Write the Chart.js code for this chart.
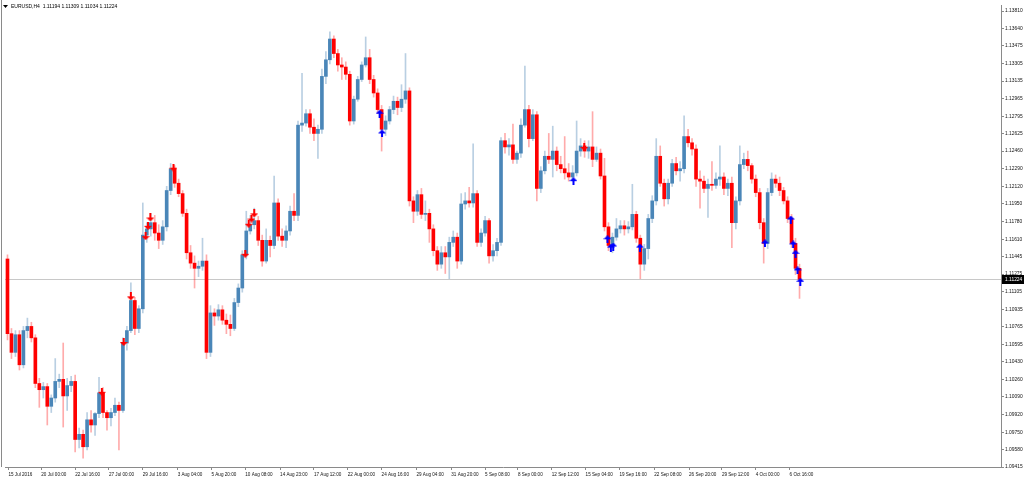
<!DOCTYPE html>
<html>
<head>
<meta charset="utf-8">
<script src="https://cdn.jsdelivr.net/npm/chart.js@4.4.1/dist/chart.umd.min.js"></script>
<style>
  html, body { margin: 0; padding: 0; background: #fff; }
  #wrap { width: 1024px; height: 480px; position: relative; }
</style>
</head>
<body>
<div id="wrap"><canvas id="priceChart" width="1024" height="480"></canvas></div>
<script>
// EURUSD H4 candles (two H4 bars per candle)
const opens = [
  1.1142,1.1070,1.1052,1.1069,1.1040,1.1073,1.1077,1.1066,1.1022,1.1016,
  1.1019,1.1000,1.1008,1.1024,1.1026,1.1010,1.1020,1.1024,1.0968,1.0973,
  1.0961,1.0987,1.0982,1.0993,1.1013,1.0994,1.0989,1.0994,1.1001,1.0996,
  1.1061,1.1073,1.1102,1.1075,1.1094,1.1165,1.1171,1.1177,1.1167,1.1160,
  1.1173,1.1208,1.1229,1.1215,1.1205,1.1186,1.1148,1.1138,1.1133,1.1135,
  1.1140,1.1052,1.1090,1.1087,1.1093,1.1083,1.1079,1.1075,1.1100,1.1114,
  1.1146,1.1169,1.1175,1.1179,1.1160,1.1140,1.1160,1.1155,1.1196,1.1164,
  1.1160,1.1169,1.1188,1.1184,1.1271,1.1273,1.1282,1.1269,1.1263,1.1267,
  1.1318,1.1334,1.1354,1.1340,1.1329,1.1327,1.1320,1.1275,1.1296,1.1315,
  1.1329,1.1336,1.1315,1.1302,1.1286,1.1267,1.1275,1.1286,1.1294,1.1288,
  1.1296,1.1304,1.1198,1.1188,1.1204,1.1185,1.1186,1.1171,1.1150,1.1137,
  1.1148,1.1144,1.1158,1.1163,1.1140,1.1195,1.1198,1.1196,1.1205,1.1158,
  1.1167,1.1179,1.1145,1.1150,1.1158,1.1256,1.1250,1.1252,1.1238,1.1244,
  1.1271,1.1286,1.1258,1.1281,1.1210,1.1227,1.1241,1.1238,1.1246,1.1233,
  1.1229,1.1225,1.1221,1.1225,1.1246,1.1251,1.1246,1.1250,1.1238,1.1244,
  1.1222,1.1173,1.1155,1.1163,1.1171,1.1174,1.1171,1.1173,1.1185,1.1162,
  1.1137,1.1152,1.1181,1.1198,1.1241,1.1215,1.1200,1.1215,1.1234,1.1227,
  1.1229,1.1260,1.1254,1.1248,1.1219,1.1217,1.1210,1.1214,1.1213,1.1219,
  1.1221,1.1210,1.1215,1.1177,1.1198,1.1233,1.1238,1.1232,1.1219,1.1206,
  1.1177,1.1157,1.1206,1.1219,1.1215,1.1208,1.1198,1.1181,1.1157,1.1133
];
const highs = [
  1.1146,1.1075,1.1073,1.1073,1.1077,1.1085,1.1081,1.1069,1.1027,1.1023,
  1.1022,1.1011,1.1046,1.1031,1.1061,1.1027,1.1029,1.1030,1.0979,1.0977,
  1.0994,1.0996,1.0994,1.1028,1.1018,1.0996,1.0998,1.1008,1.1004,1.1066,
  1.1077,1.1119,1.1105,1.1097,1.1196,1.1177,1.1186,1.1184,1.1175,1.1179,
  1.1212,1.1234,1.1232,1.1219,1.1208,1.1190,1.1155,1.1145,1.1140,1.1162,
  1.1146,1.1097,1.1094,1.1098,1.1097,1.1089,1.1088,1.1104,1.1118,1.1150,
  1.1188,1.1184,1.1191,1.1183,1.1165,1.1171,1.1164,1.1222,1.1200,1.1171,
  1.1174,1.1193,1.1205,1.1275,1.1321,1.1286,1.1286,1.1277,1.1271,1.1325,
  1.1342,1.1361,1.1357,1.1344,1.1336,1.1332,1.1323,1.1299,1.1318,1.1332,
  1.1356,1.1344,1.1319,1.1306,1.1290,1.1280,1.1289,1.1299,1.1298,1.1310,
  1.1340,1.1307,1.1202,1.1208,1.1210,1.1198,1.1190,1.1175,1.1154,1.1154,
  1.1154,1.1163,1.1169,1.1167,1.1205,1.1206,1.1211,1.1253,1.1208,1.1171,
  1.1183,1.1181,1.1156,1.1162,1.1259,1.1263,1.1258,1.1272,1.1246,1.1277,
  1.1328,1.1290,1.1286,1.1284,1.1231,1.1246,1.1263,1.1270,1.1250,1.1241,
  1.1260,1.1234,1.1232,1.1275,1.1258,1.1256,1.1256,1.1284,1.1250,1.1248,
  1.1239,1.1177,1.1167,1.1181,1.1179,1.1179,1.1178,1.1214,1.1188,1.1165,
  1.1156,1.1185,1.1203,1.1258,1.1251,1.1219,1.1219,1.1238,1.1240,1.1236,
  1.1280,1.1267,1.1258,1.1252,1.1227,1.1222,1.1219,1.1236,1.1225,1.1251,
  1.1225,1.1219,1.1221,1.1202,1.1251,1.1244,1.1246,1.1234,1.1223,1.1210,
  1.1181,1.1210,1.1225,1.1223,1.1221,1.1211,1.1202,1.1185,1.1162,1.1137
];
const lows = [
  1.1064,1.1046,1.1048,1.1035,1.1037,1.1066,1.1062,1.1018,1.0999,1.1008,
  1.0982,1.0994,1.1004,1.1018,1.0980,1.0996,1.1014,1.0956,1.0960,1.0950,
  1.0958,1.0975,1.0972,1.0989,1.0989,1.0977,1.0981,1.0991,1.0958,1.0994,
  1.1054,1.1071,1.1069,1.1071,1.1090,1.1158,1.1164,1.1160,1.1152,1.1156,
  1.1169,1.1204,1.1211,1.1202,1.1183,1.1142,1.1133,1.1114,1.1125,1.1131,
  1.1046,1.1048,1.1078,1.1083,1.1079,1.1070,1.1068,1.1073,1.1096,1.1110,
  1.1142,1.1166,1.1171,1.1155,1.1135,1.1138,1.1144,1.1152,1.1160,1.1154,
  1.1153,1.1165,1.1179,1.1179,1.1265,1.1270,1.1263,1.1256,1.1239,1.1263,
  1.1311,1.1330,1.1336,1.1323,1.1315,1.1315,1.1271,1.1272,1.1294,1.1313,
  1.1327,1.1311,1.1298,1.1282,1.1246,1.1261,1.1272,1.1282,1.1281,1.1284,
  1.1292,1.1193,1.1177,1.1184,1.1181,1.1179,1.1158,1.1145,1.1131,1.1133,
  1.1128,1.1123,1.1154,1.1133,1.1137,1.1190,1.1192,1.1192,1.1154,1.1154,
  1.1164,1.1138,1.1140,1.1145,1.1155,1.1244,1.1242,1.1234,1.1234,1.1240,
  1.1269,1.1250,1.1256,1.1198,1.1206,1.1224,1.1234,1.1221,1.1227,1.1225,
  1.1219,1.1217,1.1217,1.1222,1.1241,1.1240,1.1239,1.1231,1.1236,1.1219,
  1.1169,1.1150,1.1148,1.1160,1.1167,1.1165,1.1167,1.1170,1.1158,1.1123,
  1.1131,1.1142,1.1177,1.1194,1.1212,1.1193,1.1195,1.1212,1.1223,1.1217,
  1.1225,1.1250,1.1242,1.1212,1.1191,1.1206,1.1182,1.1208,1.1210,1.1213,
  1.1204,1.1203,1.1153,1.1171,1.1194,1.1229,1.1227,1.1215,1.1202,1.1171,
  1.1138,1.1152,1.1203,1.1211,1.1203,1.1195,1.1177,1.1153,1.1127,1.1104
];
const closes = [
  1.1070,1.1052,1.1069,1.1040,1.1073,1.1077,1.1066,1.1022,1.1016,1.1019,
  1.1000,1.1008,1.1024,1.1026,1.1010,1.1020,1.1024,1.0968,1.0973,1.0961,
  1.0987,1.0982,1.0993,1.1013,1.0994,1.0989,1.0994,1.1001,1.0996,1.1061,
  1.1073,1.1102,1.1075,1.1094,1.1165,1.1171,1.1177,1.1167,1.1160,1.1173,
  1.1208,1.1229,1.1215,1.1205,1.1186,1.1148,1.1138,1.1133,1.1135,1.1140,
  1.1052,1.1090,1.1087,1.1093,1.1083,1.1079,1.1075,1.1100,1.1114,1.1146,
  1.1169,1.1175,1.1179,1.1160,1.1140,1.1160,1.1155,1.1196,1.1164,1.1160,
  1.1169,1.1188,1.1184,1.1271,1.1273,1.1282,1.1269,1.1263,1.1267,1.1318,
  1.1334,1.1354,1.1340,1.1329,1.1327,1.1320,1.1275,1.1296,1.1315,1.1329,
  1.1336,1.1315,1.1302,1.1286,1.1267,1.1275,1.1286,1.1294,1.1288,1.1296,
  1.1304,1.1198,1.1188,1.1204,1.1185,1.1186,1.1171,1.1150,1.1137,1.1148,
  1.1144,1.1158,1.1163,1.1140,1.1195,1.1198,1.1196,1.1205,1.1158,1.1167,
  1.1179,1.1145,1.1150,1.1158,1.1256,1.1250,1.1252,1.1238,1.1244,1.1271,
  1.1286,1.1258,1.1281,1.1210,1.1227,1.1241,1.1238,1.1246,1.1233,1.1229,
  1.1225,1.1221,1.1225,1.1246,1.1251,1.1246,1.1250,1.1238,1.1244,1.1222,
  1.1173,1.1155,1.1163,1.1171,1.1174,1.1171,1.1173,1.1185,1.1162,1.1137,
  1.1152,1.1181,1.1198,1.1241,1.1215,1.1200,1.1215,1.1234,1.1227,1.1229,
  1.1260,1.1254,1.1248,1.1219,1.1217,1.1210,1.1214,1.1213,1.1219,1.1221,
  1.1210,1.1215,1.1177,1.1198,1.1233,1.1238,1.1232,1.1219,1.1206,1.1177,
  1.1157,1.1206,1.1219,1.1215,1.1208,1.1198,1.1181,1.1157,1.1133,1.11224
];

// signal arrows: bar position + price
const upArrowBar   = [93.5, 94.1, 142.2, 150.75, 151.6, 152.2, 158.9, 190.3, 196.8, 197.4, 198, 198.5, 199.2];
const upArrowPrice = [1.1282, 1.1263, 1.1217, 1.1161, 1.1153, 1.1154, 1.1153, 1.1157, 1.1180, 1.1156, 1.1147, 1.1131, 1.1120];
const downArrowBar   = [23.7, 29.2, 31, 34.7, 35.3, 35.9, 41.7, 59.75, 60.6, 61.3, 62, 144.9];
const downArrowPrice = [1.1014, 1.1062, 1.1106, 1.1164, 1.1174, 1.1182, 1.1230, 1.1147, 1.1176, 1.1181, 1.1186, 1.1250];

// axis labels
const timeTickBar = [0.25, 8.5, 17, 25.5, 34, 42.75, 51.25, 59.75, 68.5, 77, 85.5, 94, 102.75, 111.5,
  120, 128.25, 136.75, 145.25, 153.75, 162.5, 171.25, 179.5, 188, 196.5];
const timeTickLabels = ['15 Jul 2016', '20 Jul 00:00', '22 Jul 16:00', '27 Jul 00:00', '29 Jul 16:00',
  '3 Aug 04:00', '5 Aug 20:00', '10 Aug 08:00', '14 Aug 23:00', '17 Aug 12:00', '22 Aug 00:00',
  '24 Aug 16:00', '29 Aug 04:00', '31 Aug 20:00', '5 Sep 08:00', '8 Sep 00:00', '12 Sep 12:00',
  '15 Sep 04:00', '19 Sep 16:00', '22 Sep 08:00', '26 Sep 20:00', '29 Sep 12:00', '4 Oct 00:00', '6 Oct 16:00'];
const priceTicks = [1.13810, 1.13640, 1.13475, 1.13305, 1.13135, 1.12965, 1.12795, 1.12625, 1.12460,
  1.12290, 1.12120, 1.11950, 1.11780, 1.11610, 1.11445, 1.11275, 1.11105, 1.10935, 1.10765, 1.10595,
  1.10430, 1.10260, 1.10090, 1.09920, 1.09750, 1.09580, 1.09415];

const symbolName = 'EURUSD,H4';
const lastBarOHLC = [1.11194, 1.11309, 1.11034, 1.11224];
const currentPrice = 1.11224;

const UP = 'rgb(74,134,184)';
const UP_WICK = 'rgba(70,130,180,0.38)';
const DOWN = 'rgb(255,0,0)';
const DOWN_WICK = 'rgba(255,0,0,0.33)';
const FONT_FAMILY = 'Liberation Sans, Arial, sans-serif';

// arrow glyphs for the signal points
function makeArrow(color, pointUp) {
    const c = document.createElement('canvas');
    c.width = 8; c.height = 8;
    const g = c.getContext('2d');
    g.fillStyle = color;
    if (!pointUp) { g.translate(0, 8); g.scale(1, -1); }
    g.beginPath();
    g.moveTo(4, 0); g.lineTo(8, 4); g.lineTo(0, 4); g.closePath();
    g.fill();
    g.fillRect(3, 4, 2, 4);
    return c;
}

const isUp = closes.map((c, i) => c >= opens[i]);

// current price line, frame, price box and header text
const overlay = {
    id: 'overlay',
    beforeDatasetsDraw(chart) {
        const ctx = chart.ctx, a = chart.chartArea;
        const y = Math.round(chart.scales.y.getPixelForValue(currentPrice)) + 0.5;
        ctx.save();
        ctx.strokeStyle = '#c8c8c8';
        ctx.lineWidth = 1;
        ctx.beginPath(); ctx.moveTo(a.left, y); ctx.lineTo(a.right, y); ctx.stroke();
        ctx.strokeStyle = '#8a8a8a';
        ctx.beginPath(); ctx.moveTo(1.5, 0); ctx.lineTo(1.5, a.bottom); ctx.stroke();
        ctx.restore();
    },
    afterDraw(chart) {
        const ctx = chart.ctx, a = chart.chartArea;
        const y = Math.round(chart.scales.y.getPixelForValue(currentPrice));
        ctx.save();
        ctx.fillStyle = '#000';
        ctx.fillRect(a.right + 1, y - 4, 1024 - a.right - 1, 9);
        ctx.fillStyle = '#fff';
        ctx.font = '4.9px ' + FONT_FAMILY;
        ctx.textBaseline = 'middle';
        ctx.fillText(currentPrice.toFixed(5), a.right + 4, y + 0.5);
        // header
        ctx.fillStyle = '#000';
        ctx.beginPath(); ctx.moveTo(3, 5); ctx.lineTo(8, 5); ctx.lineTo(5.5, 8); ctx.closePath(); ctx.fill();
        ctx.font = '5px ' + FONT_FAMILY;
        ctx.fillText(symbolName + '  ' + lastBarOHLC.map(v => v.toFixed(5)).join(' '), 11, 6.5);
        ctx.restore();
    }
};

const ctx = document.getElementById('priceChart').getContext('2d');
const chart = new Chart(ctx, {
    type: 'bar',
    data: {
        datasets: [{
            label: 'wick',
            data: lows.map((l, i) => ({ x: i, y: [l, highs[i]] })),
            backgroundColor: isUp.map(u => u ? UP_WICK : DOWN_WICK),
            barThickness: 1,
            grouped: false,
            borderWidth: 0,
            order: 2
        }, {
            label: 'body',
            data: opens.map((o, i) => ({ x: i, y: [o, closes[i]] })),
            backgroundColor: isUp.map(u => u ? UP : DOWN),
            barThickness: 3,
            minBarLength: 1,
            grouped: false,
            borderWidth: 0,
            order: 1
        }, {
            type: 'line',
            label: 'buy',
            data: upArrowBar.map((b, i) => ({ x: b, y: upArrowPrice[i] })),
            showLine: false,
            pointStyle: makeArrow('#0000ff', true),
            pointRadius: 4,
            order: 0
        }, {
            type: 'line',
            label: 'sell',
            data: downArrowBar.map((b, i) => ({ x: b, y: downArrowPrice[i] })),
            showLine: false,
            pointStyle: makeArrow('#ff0000', false),
            pointRadius: 4,
            order: 0
        }]
    },
    options: {
        responsive: false,
        animation: false,
        layout: { padding: { top: 3, left: 0, right: 0, bottom: 0 } },
        plugins: { legend: { display: false }, tooltip: { enabled: false } },
        scales: {
            x: {
                type: 'linear',
                offset: false,
                min: -0.625,
                max: 249.625,
                afterBuildTicks: s => { s.ticks = timeTickBar.map(v => ({ value: v })); },
                afterFit: s => { s.height = 13; },
                grid: { drawOnChartArea: false, drawTicks: true, tickLength: 3, color: '#8a8a8a', offset: false },
                border: { display: true, color: '#8a8a8a' },
                ticks: {
                    autoSkip: false, maxRotation: 0, align: 'start', padding: 1.5,
                    color: '#111', font: { family: FONT_FAMILY, size: 4.6 },
                    callback: (v, i) => timeTickLabels[i]
                }
            },
            y: {
                position: 'right',
                min: 1.09415,
                max: 1.13868,
                afterBuildTicks: s => { s.ticks = priceTicks.map(v => ({ value: v })); },
                afterFit: s => { s.width = 23; },
                grid: { drawOnChartArea: false, drawTicks: true, tickLength: 3, color: '#8a8a8a' },
                border: { display: true, color: '#8a8a8a' },
                ticks: {
                    padding: 1, color: '#111', font: { family: FONT_FAMILY, size: 4.9 },
                    callback: v => Number(v).toFixed(5)
                }
            }
        }
    },
    plugins: [overlay]
});
</script>
</body>
</html>
